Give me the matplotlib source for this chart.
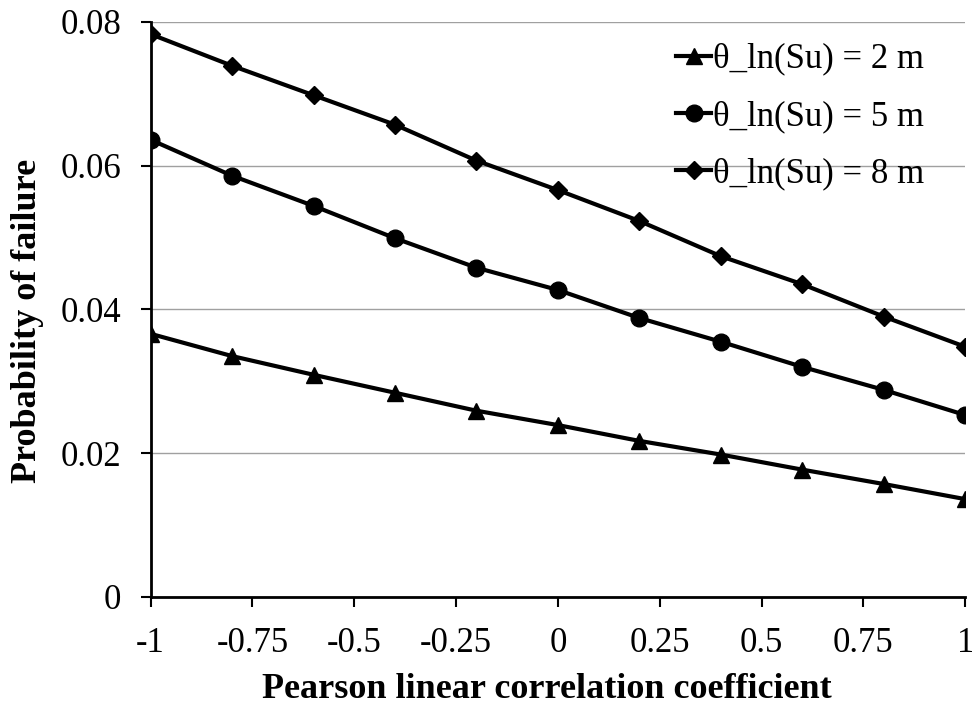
import numpy as np
import matplotlib.pyplot as plt

# Pearson correlation vs probability of failure
rho = [-1, -0.8, -0.6, -0.4, -0.2, 0, 0.2, 0.4, 0.6, 0.8, 1]
pf_2m = [0.0366, 0.0335, 0.0309, 0.0284, 0.0259, 0.0239, 0.0217, 0.0198, 0.0177, 0.0157, 0.0136]
pf_5m = [0.0636, 0.0586, 0.0544, 0.0499, 0.0458, 0.0427, 0.0388, 0.0355, 0.0320, 0.0288, 0.0253]
pf_8m = [0.0783, 0.0739, 0.0698, 0.0657, 0.0607, 0.0566, 0.0523, 0.0474, 0.0435, 0.0390, 0.0348]
labels = ["θ_ln(Su) = 2 m", "θ_ln(Su) = 5 m", "θ_ln(Su) = 8 m"]
xticks = [-1, -0.75, -0.5, -0.25, 0, 0.25, 0.5, 0.75, 1]
xticklabels = ["-1", "-0.75", "-0.5", "-0.25", "0", "0.25", "0.5", "0.75", "1"]
yticks = [0, 0.02, 0.04, 0.06, 0.08]
yticklabels = ["0", "0.02", "0.04", "0.06", "0.08"]

plt.rcParams['font.family'] = ['Liberation Serif', 'DejaVu Serif']

fig = plt.figure(figsize=(9.72, 7.08), dpi=100)
ax = fig.add_axes([0.155, 0.157, 0.838, 0.812])

ax.plot(rho, pf_2m, color='black', lw=3, marker='^', ms=11, label=labels[0])
ax.plot(rho, pf_5m, color='black', lw=3, marker='o', ms=12, label=labels[1])
ax.plot(rho, pf_8m, color='black', lw=3, marker='D', ms=9, label=labels[2])

ax.set_xlim(-1, 1)
ax.set_ylim(0, 0.08)
ax.set_xticks(xticks)
ax.set_xticklabels(xticklabels)
ax.set_yticks(yticks)
ax.set_yticklabels(yticklabels)
ax.tick_params(axis='both', labelsize=25, direction='out', length=7, width=1.5, color='black')
ax.tick_params(axis='x', pad=15)
ax.tick_params(axis='y', pad=14)

ax.yaxis.grid(True, color='#a0a0a0', lw=1)
ax.set_axisbelow(True)
for s in ['top', 'right']:
    ax.spines[s].set_visible(False)
for s in ['left', 'bottom']:
    ax.spines[s].set_linewidth(2)

ax.set_xlabel("Pearson linear correlation coefficient", fontsize=26, fontweight='bold')
ax.set_ylabel("Probability of failure", fontsize=26, fontweight='bold')
ax.xaxis.set_label_coords(0.486, -0.133)
ax.yaxis.set_label_coords(-0.131, 0.48)

ax.legend(loc='upper right', bbox_to_anchor=(0.975, 1.0), frameon=False, fontsize=25,
          handlelength=1.0, handletextpad=0.05, labelspacing=0.7, borderaxespad=0.2)

fig.savefig("out.png", dpi=100)
